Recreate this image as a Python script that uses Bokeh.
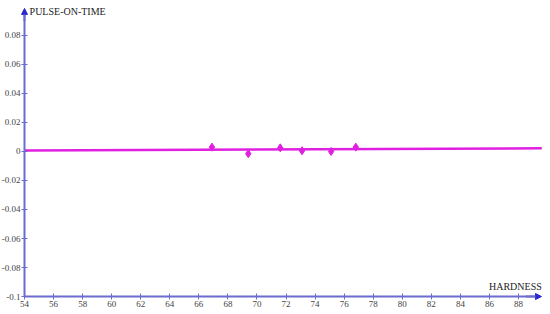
from bokeh.plotting import figure
from bokeh.models import Range1d, FixedTicker, Label, Arrow, NormalHead
from bokeh.embed import file_html
from bokeh.resources import INLINE

# data
hardness = [66.9, 69.4, 71.6, 73.1, 75.1, 76.8]
pulse_on_time = [0.003, -0.0015, 0.0025, 0.0005, 0.0, 0.003]
fit_x = [54.0, 89.6]
fit_y = [0.0006, 0.0022]
x_ticks = [54, 56, 58, 60, 62, 64, 66, 68, 70, 72, 74, 76, 78, 80, 82, 84, 86, 88]
y_ticks = [-0.1, -0.08, -0.06, -0.04, -0.02, 0, 0.02, 0.04, 0.06, 0.08]
y_labels = {-0.1: "-0.1", -0.08: "-0.08", -0.06: "-0.06", -0.04: "-0.04", -0.02: "-0.02",
            0: "0", 0.02: "0.02", 0.04: "0.04", 0.06: "0.06", 0.08: "0.08"}

AX = "#6b6bd0"
MAG = "#e020e0"
FONT = "Liberation Serif"

p = figure(width=550, height=314, output_backend="svg", toolbar_location=None,
           x_range=Range1d(52.348, 90.2), y_range=Range1d(-0.1124, 0.1041),
           min_border=0, outline_line_color=None)
p.grid.visible = False

for ax in (p.xaxis[0], p.yaxis[0]):
    ax.axis_line_color = AX
    ax.axis_line_width = 2
    ax.major_tick_line_color = AX
    ax.major_tick_in = 3
    ax.major_tick_out = 3
    ax.minor_tick_line_color = None
    ax.major_label_text_font = FONT
    ax.major_label_text_font_size = "9px"
    ax.major_label_text_color = "#444444"
    ax.major_label_standoff = 1

p.xaxis.ticker = FixedTicker(ticks=x_ticks)
p.yaxis.ticker = FixedTicker(ticks=y_ticks)
p.yaxis.major_label_overrides = y_labels
p.xaxis.fixed_location = -0.1
p.yaxis.fixed_location = 54
p.xaxis.bounds = (54, 89.3)
p.yaxis.bounds = (-0.1, 0.096)

p.add_layout(Arrow(end=NormalHead(size=6, fill_color="#2a2ad0", line_color="#2a2ad0"),
                   x_start=88.5, y_start=-0.1, x_end=89.58, y_end=-0.1,
                   line_color=AX, line_width=2))
p.add_layout(Arrow(end=NormalHead(size=6, fill_color="#2a2ad0", line_color="#2a2ad0"),
                   x_start=54, y_start=0.09, x_end=54, y_end=0.0986,
                   line_color=AX, line_width=2))

p.line(fit_x, fit_y, line_color=MAG, line_width=2.5)
p.scatter(hardness, pulse_on_time, marker="diamond", size=8, color=MAG)

p.add_layout(Label(x=54.35, y=0.0966, text="PULSE-ON-TIME", text_font=FONT,
                   text_font_size="10px", text_color="#222222", text_baseline="middle"))
p.add_layout(Label(x=89.6, y=-0.097, text="HARDNESS", text_font=FONT,
                   text_font_size="10px", text_color="#222222", text_align="right",
                   text_baseline="bottom"))

open("out.html", "w").write(file_html(p, INLINE))
